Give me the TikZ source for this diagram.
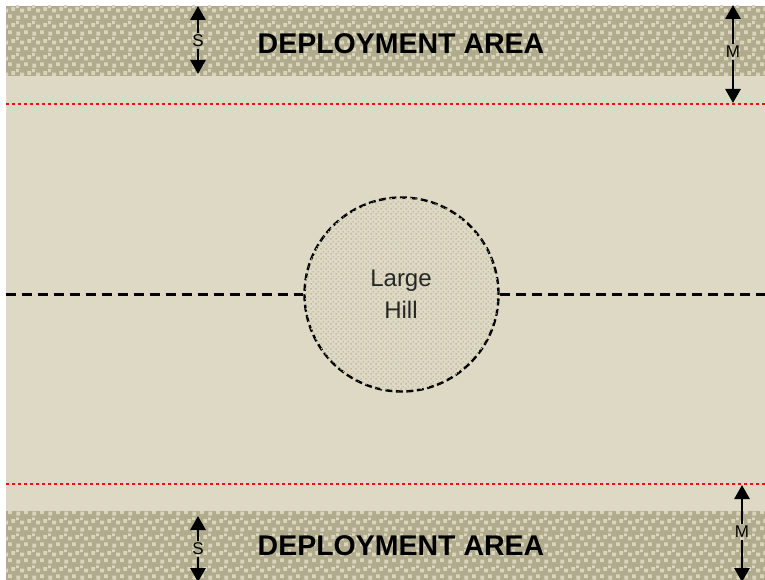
\documentclass[tikz,border=0pt]{standalone}
\usepackage{fontspec}
\setmainfont{Liberation Sans}
\usetikzlibrary{patterns,arrows.meta}
\definecolor{board}{HTML}{DDD9C4}
\definecolor{band}{HTML}{B1AB8E}
\definecolor{bandsq}{HTML}{D9D4BC}
\definecolor{hilldot}{HTML}{C2BCA2}
\definecolor{reddot}{HTML}{F01010}
\pgfdeclarepatternformonly{bandsquares}{\pgfpointorigin}{\pgfpoint{16pt}{16pt}}{\pgfpoint{16pt}{16pt}}{%
  \pgfpathrectangle{\pgfpoint{0.5pt}{0.5pt}}{\pgfpoint{4pt}{4pt}}%
  \pgfpathrectangle{\pgfpoint{8.5pt}{2pt}}{\pgfpoint{4pt}{4pt}}%
  \pgfpathrectangle{\pgfpoint{4.5pt}{8pt}}{\pgfpoint{4pt}{4pt}}%
  \pgfpathrectangle{\pgfpoint{12pt}{9.5pt}}{\pgfpoint{4pt}{4pt}}%
  \pgfpathrectangle{\pgfpoint{0pt}{12.5pt}}{\pgfpoint{3pt}{3pt}}%
  \pgfusepath{fill}}
\pgfdeclarepatternformonly{hilldots}{\pgfpointorigin}{\pgfpoint{5pt}{5pt}}{\pgfpoint{5pt}{5pt}}{%
  \pgfpathrectangle{\pgfpoint{0.5pt}{0.5pt}}{\pgfpoint{1.6pt}{1.6pt}}%
  \pgfpathrectangle{\pgfpoint{3pt}{3pt}}{\pgfpoint{1.6pt}{1.6pt}}%
  \pgfusepath{fill}}
\tikzset{
  bandarea/.style={fill=band, postaction={pattern=bandsquares, pattern color=bandsq}},
  redline/.style={draw=reddot, line width=2.6pt, dash pattern=on 3pt off 3pt},
  midline/.style={draw=black, line width=2.8pt, dash pattern=on 10pt off 6pt},
  hill/.style={circle, minimum size=194pt, inner sep=0pt, fill=board,
    postaction={pattern=hilldots, pattern color=hilldot},
    draw=black, line width=2.4pt, dash pattern=on 7pt off 3.5pt},
  title/.style={font=\bfseries\fontsize{28.5}{30}\selectfont, text=black, inner sep=0pt},
  dimlabel/.style={font=\fontsize{17}{18}\selectfont, inner sep=1.5pt, text=black},
  dimarrow/.style={draw=black, line width=2.8pt, -{Triangle[width=15pt,length=14pt]}},
}
\begin{document}
\begin{tikzpicture}[x=1pt,y=-1pt]
\useasboundingbox (0,0) rectangle (765,580);
\fill[white] (0,0) rectangle (765,580);
\fill[board] (6,6) rectangle (765,580);
\path[bandarea] (6,6) rectangle (765,76);
\path[bandarea] (6,511) rectangle (765,580);
\draw[redline] (6,104) -- (765,104);
\draw[redline] (6,484) -- (765,484);
\coordinate (ml) at (6,294.5);
\coordinate (mr) at (765,294.5);
\node[hill] (hill) at (401.5,294.5) {};
\node[font=\fontsize{24}{32}\selectfont, align=center, text=black!85] (hilltxt) at (401,294) {Large\\Hill};
\draw[midline] (ml) -- (hill.west);
\draw[midline] (hill.east) -- (mr);
\node[title] (t1) at (401,44) {DEPLOYMENT AREA};
\node[title] (t2) at (401,546) {DEPLOYMENT AREA};
% top S
\node[dimlabel] (s1) at (198,41) {S};
\coordinate (s1a) at (198,6);
\coordinate (s1b) at (198,74);
\draw[dimarrow] (s1) -- (s1a);
\draw[dimarrow] (s1) -- (s1b);
% top M
\node[dimlabel] (m1) at (733,52) {M};
\coordinate (m1a) at (733,5);
\coordinate (m1b) at (733,103);
\draw[dimarrow] (m1) -- (m1a);
\draw[dimarrow] (m1) -- (m1b);
% bottom S
\node[dimlabel] (s2) at (198,549) {S};
\coordinate (s2a) at (198,516);
\coordinate (s2b) at (198,582);
\draw[dimarrow] (s2) -- (s2a);
\draw[dimarrow] (s2) -- (s2b);
% bottom M
\node[dimlabel] (m2) at (742,532) {M};
\coordinate (m2a) at (742,485);
\coordinate (m2b) at (742,582);
\draw[dimarrow] (m2) -- (m2a);
\draw[dimarrow] (m2) -- (m2b);
\end{tikzpicture}
\end{document}
